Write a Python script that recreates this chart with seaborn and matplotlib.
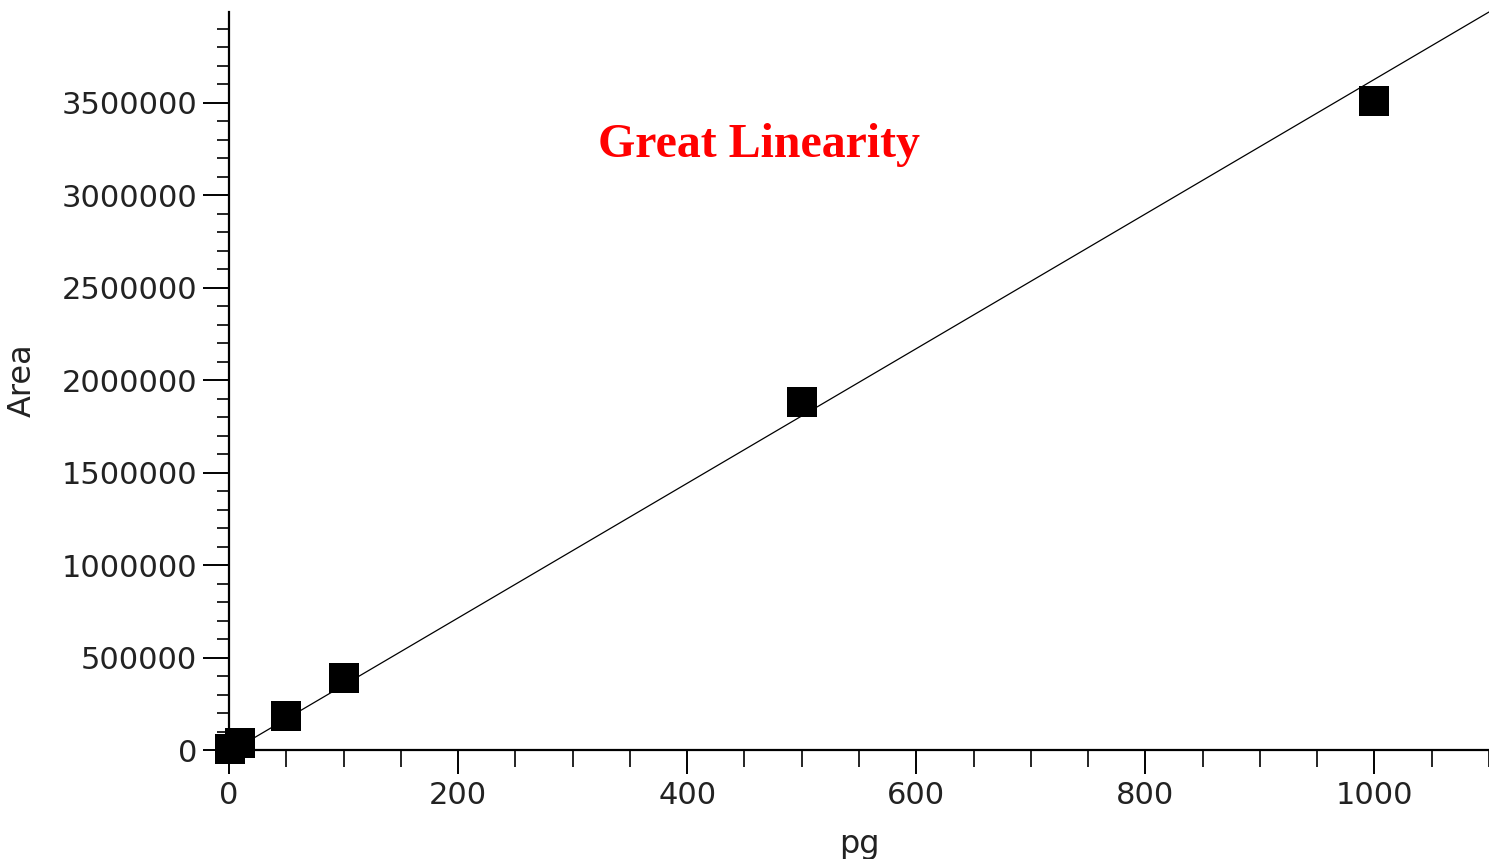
import matplotlib
matplotlib.use("Agg")
import matplotlib.pyplot as plt
import seaborn as sns
import pandas as pd
from matplotlib.ticker import MultipleLocator, FuncFormatter

# Data
amount_pg = [1, 10, 50, 100, 500, 1000]
area = [4000, 37000, 184000, 387000, 1880000, 3510000]
fit_pg = [0, 1100]
fit_area = [-14000, 3990000]

title_text = "Great Linearity"
x_label = "pg"
y_label = "Area"

sns.set_style("white")
plt.rcParams['font.family'] = ['DejaVu Sans']

fig = plt.figure(figsize=(14.89, 8.59), dpi=100)
ax = fig.add_axes([229/1489, 109/859, 1 - 229/1489, (750-12)/859])

pts = pd.DataFrame({"pg": amount_pg, "Area": area})
fit = pd.DataFrame({"pg": fit_pg, "Area": fit_area})

sns.lineplot(data=fit, x="pg", y="Area", ax=ax, color="black", linewidth=0.9, clip_on=False)
sns.scatterplot(data=pts, x="pg", y="Area", ax=ax, marker="s", s=470, color="black",
                linewidth=0, clip_on=False, zorder=5)

ax.set_xlim(0, 1100)
ax.set_ylim(0, 3.99e6)

for side in ["top", "right"]:
    ax.spines[side].set_visible(False)
for side in ["left", "bottom"]:
    ax.spines[side].set_color("black")
    ax.spines[side].set_linewidth(1.6)

ax.xaxis.set_major_locator(MultipleLocator(200))
ax.xaxis.set_minor_locator(MultipleLocator(50))
ax.yaxis.set_major_locator(MultipleLocator(500000))
ax.yaxis.set_minor_locator(MultipleLocator(100000))
ax.yaxis.set_major_formatter(FuncFormatter(lambda v, p: f"{int(round(v))}"))
ax.xaxis.set_major_formatter(FuncFormatter(lambda v, p: f"{int(round(v))}"))

ax.tick_params(axis="y", which="major", direction="out", length=19, width=1.4,
               color="black", labelsize=22, labelcolor="#222222", pad=4, left=True)
ax.tick_params(axis="y", which="minor", direction="out", length=9, width=1.2,
               color="black", left=True)
ax.tick_params(axis="x", which="major", direction="out", length=17, width=1.4,
               color="black", labelsize=22, labelcolor="#222222", pad=5, bottom=True)
ax.tick_params(axis="x", which="minor", direction="out", length=12, width=1.2,
               color="black", bottom=True)

ax.set_xlabel(x_label, fontsize=23, color="#222222", labelpad=14)
ax.set_ylabel(y_label, fontsize=23, color="#222222")
ax.yaxis.set_label_coords((38 - 229) / 1260, (750 - 380) / 738)

ax.text(759/1489, 1 - 145/859, title_text, transform=fig.transFigure,
        ha="center", va="center", color="#ff0000", fontsize=34.5,
        fontweight="bold", family="Liberation Serif")

fig.savefig("out.png", dpi=100)
